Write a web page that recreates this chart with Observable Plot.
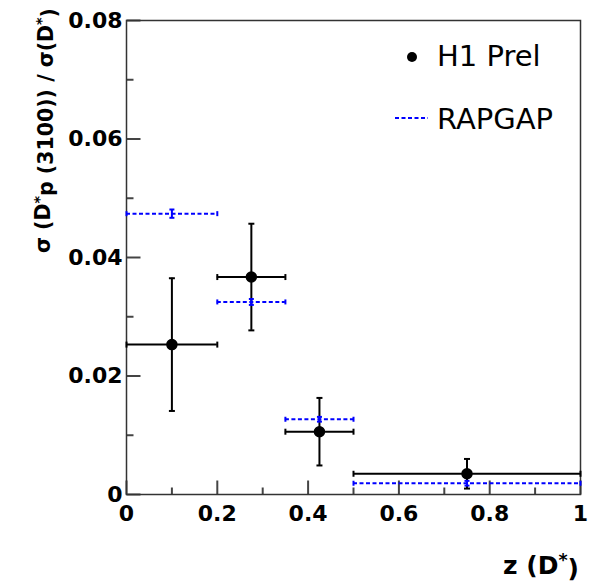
<!DOCTYPE html>
<html><head><meta charset="utf-8">
<script src="https://cdn.jsdelivr.net/npm/d3@7"></script>
<script src="https://cdn.jsdelivr.net/npm/@observablehq/plot@0.6"></script>
<style>body{margin:0;background:#fff}</style>
</head><body><div id="chart"></div>
<script>
// ---- data ----
const binLo = [0, 0.2, 0.35, 0.5];
const binHi = [0.2, 0.35, 0.5, 1];
const zCenter = [0.1, 0.275, 0.425, 0.75];
const h1Value = [0.0253, 0.0367, 0.0106, 0.0035];
const h1Err = [0.0112, 0.0090, 0.0057, 0.0025];
const rapgapValue = [0.0474, 0.0325, 0.0127, 0.0019];
const rapgapErr = [0.0007, 0.0005, 0.0004, 0.0004];
const xMajorTicks = [0, 0.2, 0.4, 0.6, 0.8, 1];
const xMinorTicks = [0.1, 0.3, 0.5, 0.7, 0.9];
const yMajorTicks = [0, 0.02, 0.04, 0.06, 0.08];
const yMinorTicks = [0.01, 0.03, 0.05, 0.07];
const seriesNames = ["H1 Prel", "RAPGAP"];

const h1 = binLo.map((lo, i) => ({lo, hi: binHi[i], c: zCenter[i], v: h1Value[i], e: h1Err[i]}));
const rap = binLo.map((lo, i) => ({lo, hi: binHi[i], c: zCenter[i], v: rapgapValue[i], e: rapgapErr[i]}));

const rad = size => Math.sqrt(size / Math.PI);
const capH = {draw(ctx, size) { const r = rad(size); ctx.moveTo(-r, 0); ctx.lineTo(r, 0); }};
const capV = {draw(ctx, size) { const r = rad(size); ctx.moveTo(0, -r); ctx.lineTo(0, r); }};
const tickUp = {draw(ctx, size) { const r = rad(size); ctx.moveTo(0, 0); ctx.lineTo(0, -r); }};
const tickRight = {draw(ctx, size) { const r = rad(size); ctx.moveTo(0, 0); ctx.lineTo(r, 0); }};

const fmtX = d => d === 0 ? "0" : d === 1 ? "1" : d.toFixed(1);
const fmtY = d => d === 0 ? "0" : d.toFixed(2);
const BLUE = "#0000ff";
const labelStyle = {tickSize: 0, fill: "black", fontSize: 22, fontWeight: "bold", label: null};
const tickStroke = {stroke: "#444", strokeWidth: 2, fill: "none"};

function errMarks(data, color, w, capR, dash) {
  return [
    Plot.ruleY(data, {x1: "lo", x2: "hi", y: "v", stroke: color, strokeWidth: w, strokeDasharray: dash}),
    Plot.dot(data, {x: "lo", y: "v", symbol: capV, r: capR, stroke: color, strokeWidth: w, fill: "none"}),
    Plot.dot(data, {x: "hi", y: "v", symbol: capV, r: capR, stroke: color, strokeWidth: w, fill: "none"}),
    Plot.ruleX(data, {x: "c", y1: d => d.v - d.e, y2: d => d.v + d.e, stroke: color, strokeWidth: w}),
    Plot.dot(data, {x: "c", y: d => d.v - d.e, symbol: capH, r: capR, stroke: color, strokeWidth: w, fill: "none"}),
    Plot.dot(data, {x: "c", y: d => d.v + d.e, symbol: capH, r: capR, stroke: color, strokeWidth: w, fill: "none"})
  ];
}

const chart = Plot.plot({
  width: 594, height: 584,
  marginLeft: 126, marginRight: 14, marginTop: 20, marginBottom: 90,
  x: {domain: [0, 1]},
  y: {domain: [0, 0.08]},
  style: {fontFamily: "DejaVu Sans", background: "white", color: "black"},
  marks: [
    Plot.axisX({...labelStyle, ticks: xMajorTicks, tickPadding: 11, tickFormat: fmtX}),
    Plot.axisY({...labelStyle, ticks: yMajorTicks, tickPadding: 4, tickFormat: fmtY}),
    Plot.dot(xMajorTicks, {x: d => d, frameAnchor: "bottom", symbol: tickUp, r: 14, ...tickStroke}),
    Plot.dot(xMinorTicks, {x: d => d, frameAnchor: "bottom", symbol: tickUp, r: 7, ...tickStroke}),
    Plot.dot(yMajorTicks, {y: d => d, frameAnchor: "left", symbol: tickRight, r: 14, ...tickStroke}),
    Plot.dot(yMinorTicks, {y: d => d, frameAnchor: "left", symbol: tickRight, r: 7, ...tickStroke}),
    Plot.frame({stroke: "#333", strokeWidth: 1.5}),
    ...errMarks(h1, "black", 2, 3, null),
    Plot.dot(h1, {x: "c", y: "v", r: 5, fill: "black", stroke: "black"}),
    ...errMarks(rap, BLUE, 2, 2.5, "4,2.5")
  ]
});
document.getElementById("chart").append(chart);

const svg = d3.select(chart);
// y title
const yt = svg.append("text")
  .attr("transform", "translate(50,8) rotate(-90)")
  .attr("text-anchor", "end")
  .attr("font-family", "DejaVu Sans").attr("font-weight", "bold").attr("font-size", 20.5).attr("fill", "black");
yt.append("tspan").text("σ (D");
yt.append("tspan").attr("dy", "-0.45em").attr("font-size", "0.7em").text("*");
yt.append("tspan").attr("dy", "0.45em").text("p (3100)) / σ(D");
yt.append("tspan").attr("dy", "-0.45em").attr("font-size", "0.7em").text("*");
yt.append("tspan").attr("dy", "0.45em").text(")");
// x title
const xt = svg.append("text")
  .attr("x", 579).attr("y", 574)
  .attr("text-anchor", "end")
  .attr("font-family", "DejaVu Sans").attr("font-weight", "bold").attr("font-size", 25).attr("fill", "black");
xt.append("tspan").text("z (D");
xt.append("tspan").attr("dy", "-0.45em").attr("font-size", "0.7em").text("*");
xt.append("tspan").attr("dy", "0.45em").text(")");
// legend
const lg = svg.append("g").attr("font-family", "DejaVu Sans").attr("font-size", 29).attr("fill", "black").attr("text-anchor", "start");
lg.append("circle").attr("cx", 412).attr("cy", 57).attr("r", 5).attr("fill", "black");
lg.append("text").attr("x", 437).attr("y", 66).text(seriesNames[0]);
lg.append("line").attr("x1", 395).attr("x2", 428).attr("y1", 118).attr("y2", 118)
  .attr("stroke", BLUE).attr("stroke-width", 2).attr("stroke-dasharray", "4,2.5");
lg.append("text").attr("x", 437).attr("y", 129).text(seriesNames[1]);
</script></body></html>
